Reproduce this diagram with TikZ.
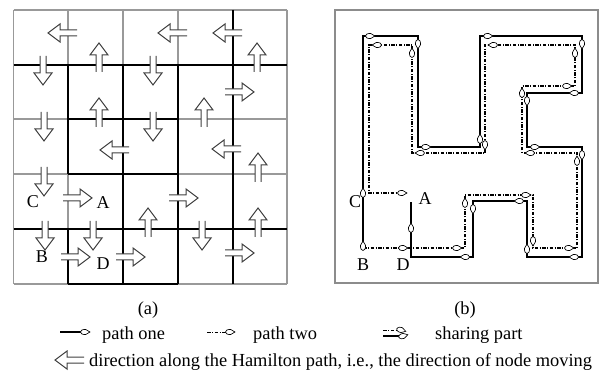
\documentclass[tikz,border=0pt]{standalone}
\usepackage{fontspec}
\setmainfont{Liberation Serif}
\begin{document}
\begin{tikzpicture}[x=1pt,y=-1pt,
  gline/.style={draw=black!40,line width=1.6pt},
  bline/.style={draw=black,line width=1.1pt},
  pone/.style={draw=black,line width=1.3pt},
  ptwo/.style={draw=black,line width=1.1pt,dash pattern=on 3.5pt off 1.5pt on 1pt off 1.5pt},
  blkarrow/.pic={\draw[draw=black!75,line width=1pt,fill=white,line join=miter]
     (-29,3) -- (-12,3) -- (-12,9) -- (0,0) -- (-12,-9) -- (-12,-3) -- (-29,-3);},
  mk/.pic={\draw[draw=black,line width=0.65pt,fill=white]
     (5,0) -- (0.5,2.6) .. controls (-2.8,2.6) and (-4.5,1.4) .. (-4.5,0)
     .. controls (-4.5,-1.4) and (-2.8,-2.6) .. (0.5,-2.6) -- cycle;},
  lbl/.style={font=\fontsize{18}{20}\selectfont,inner sep=0pt},
  captxt/.style={font=\fontsize{18.4}{21}\selectfont,inner sep=0pt},
]
\useasboundingbox (0,0) rectangle (600,374);
% ---------------- (a) grid ----------------
\def\Xa{13.5}\def\Xb{68}\def\Xc{123}\def\Xd{178}\def\Xe{233}\def\Xf{287}
\def\Ya{10}\def\Yb{65}\def\Yc{119}\def\Yd{174}\def\Ye{229}\def\Yf{284}
% gray parts
\draw[gline] (\Xa,\Ya) -- (\Xf,\Ya);
\draw[gline] (\Xa,\Ya) -- (\Xa,\Yf);
\draw[gline] (\Xf,\Ya) -- (\Xf,\Yf);
\draw[gline] (\Xb,\Ya) -- (\Xb,\Yb);
\draw[gline] (\Xb,\Yd) -- (\Xb,\Ye);
\draw[gline] (\Xc,\Ya) -- (\Xc,\Yb);
\draw[gline] (\Xd,\Ya) -- (\Xd,\Yb);
\draw[gline] (\Xa,\Yc) -- (\Xb,\Yc);
\draw[gline] (\Xd,\Yc) -- (\Xf,\Yc);
\draw[gline] (\Xa,\Yd) -- (\Xb,\Yd);
\draw[gline] (\Xd,\Yd) -- (\Xf,\Yd);
\draw[gline] (\Xa,\Yf) -- (\Xb,\Yf);
\draw[gline] (\Xd,\Yf) -- (\Xf,\Yf);
% black parts
\draw[bline] (\Xb,\Yb) -- (\Xb,\Yd);
\draw[bline] (\Xb,\Ye) -- (\Xb,\Yf);
\draw[bline] (\Xc,\Yb) -- (\Xc,\Yf);
\draw[bline] (\Xd,\Yb) -- (\Xd,\Yf);
\draw[bline] (\Xe,\Ya) -- (\Xe,\Yf);
\draw[bline] (\Xa,\Yb) -- (\Xf,\Yb);
\draw[bline] (\Xa,\Ye) -- (\Xf,\Ye);
\draw[bline] (\Xb,\Yc) -- (\Xd,\Yc);
\draw[bline] (\Xb,\Yd) -- (\Xd,\Yd);
\draw[bline] (\Xb,\Yf) -- (\Xd,\Yf);
% block arrows (tip positions)
\pic[rotate=180] at (48,33) {blkarrow};
\pic[rotate=180] at (158,33) {blkarrow};
\pic[rotate=180] at (213,33) {blkarrow};
\pic[rotate=-90] at (43,85) {blkarrow};
\pic[rotate=90] at (99,43) {blkarrow};
\pic[rotate=-90] at (153,85) {blkarrow};
\pic[rotate=90] at (257,43) {blkarrow};
\pic at (254,92) {blkarrow};
\pic[rotate=-90] at (44,141) {blkarrow};
\pic[rotate=90] at (99,98) {blkarrow};
\pic[rotate=-90] at (153,141) {blkarrow};
\pic[rotate=90] at (204,98) {blkarrow};
\pic[rotate=180] at (100,150) {blkarrow};
\pic[rotate=180] at (212,149) {blkarrow};
\pic[rotate=90] at (258,153) {blkarrow};
\pic[rotate=-90] at (44,196) {blkarrow};
\pic at (92,198) {blkarrow};
\pic at (198,198) {blkarrow};
\pic[rotate=90] at (148,208) {blkarrow};
\pic[rotate=90] at (258,208) {blkarrow};
\pic[rotate=-90] at (45,250) {blkarrow};
\pic[rotate=-90] at (93,250) {blkarrow};
\pic[rotate=-90] at (202,250) {blkarrow};
\pic at (90,257) {blkarrow};
\pic at (145,257) {blkarrow};
\pic at (254,253) {blkarrow};
\node[lbl] (aC) at (33,202) {C};
\node[lbl] (aA) at (103,203) {A};
\node[lbl] (aB) at (42,257) {B};
\node[lbl] (aD) at (103,264) {D};
% ---------------- (b) ----------------
\draw[draw=black!45,line width=2pt] (335,10) rectangle (598,283.5);
\draw[pone] (363,248) -- (363,36) -- (418,36) -- (418,147) -- (480,147) -- (480,36)
  -- (582,36) -- (582,93) -- (527,93) -- (527,147) -- (582,147) -- (582,257)
  -- (527,257) -- (527,201) -- (473,201) -- (473,257) -- (411,257) -- (411,202);
\draw[ptwo] (363,248) -- (465,248) -- (465,195) -- (533,195) -- (533,248) -- (577,248)
  -- (577,153) -- (522,153) -- (522,86) -- (575,86) -- (575,45) -- (485,45)
  -- (485,153) -- (412,153) -- (412,45) -- (369,45) -- (369,193) -- (404,193);
% markers path one
\foreach \p/\r in {(363,246)/90,(363,193)/90,(370,36)/0,(418,44)/-90,(426,147)/0,
   (480,139)/90,(488,36)/0,(582,44)/-90,(574,93)/180,(527,101)/-90,(535,147)/0,
   (582,155)/-90,(574,257)/180,(527,249)/90,(519,201)/180,(473,209)/-90,
   (465,257)/180,(411,228)/90}
  {\pic[rotate=\r] at \p {mk};}
% markers path two
\foreach \p/\r in {(403,248)/0,(457,248)/0,(465,203)/90,(526,195)/0,(533,241)/-90,
   (569,248)/0,(577,161)/90,(530,153)/180,(522,93)/90,(567,86)/0,(575,53)/90,
   (493,45)/180,(485,145)/-90,(420,153)/180,(412,53)/90,(377,45)/180,(402,193)/0}
  {\pic[rotate=\r] at \p {mk};}
\node[lbl] (bA) at (425,199) {A};
\node[lbl] (bC) at (355,202) {C};
\node[lbl] (bB) at (363,265) {B};
\node[lbl] (bD) at (403,265) {D};
% ---------------- captions and legend ----------------
\node[captxt,anchor=base] (capa) at (148,314) {(a)};
\node[captxt,anchor=base] (capb) at (465,314) {(b)};
\coordinate (l1s) at (60,332);
\coordinate (l1e) at (85,332);
\draw[pone,line width=1.1pt] (l1s) -- (l1e);
\pic at (l1e) {mk};
\node[captxt,anchor=base west] (t1) at (102,339) {path one};
\coordinate (l2s) at (207,332);
\coordinate (l2e) at (230,332);
\draw[ptwo,line width=1pt] (l2s) -- (l2e);
\pic at (l2e) {mk};
\node[captxt,anchor=base west] (t2) at (253,339) {path two};
\coordinate (l3s) at (383,330);
\coordinate (l3e) at (401,330);
\coordinate (l4s) at (383,336);
\coordinate (l4e) at (403,336);
\draw[ptwo,line width=1pt] (l3s) -- (l3e);
\draw[pone,line width=1.1pt] (l4s) -- (l4e);
\pic[rotate=-15] at (l3e) {mk};
\pic[rotate=15] at (l4e) {mk};
\node[captxt,anchor=base west] (t3) at (435,339) {sharing part};
\pic[rotate=180] at (55,360) {blkarrow};
\node[captxt,anchor=base west] (t4) at (89,366) {direction along the Hamilton path, i.e., the direction of node moving};
\end{tikzpicture}
\end{document}
